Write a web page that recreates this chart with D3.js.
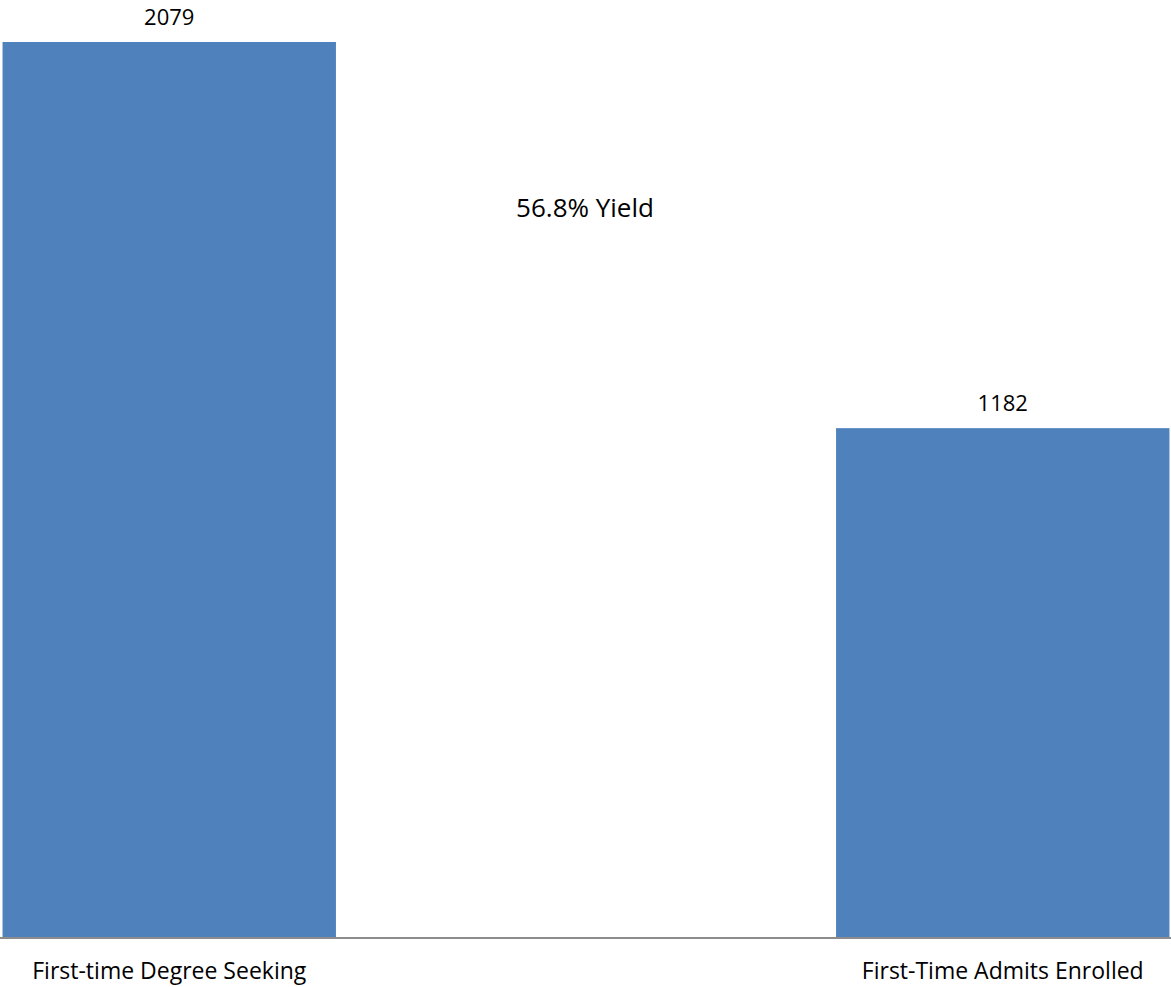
<!DOCTYPE html>
<html>
<head>
<meta charset="utf-8">
<script src="https://cdn.jsdelivr.net/npm/d3@7"></script>
<style>
  html, body { margin: 0; padding: 0; background: #fff; }
  svg { display: block; }
</style>
</head>
<body>
<svg id="chart" width="1171" height="987"></svg>
<script>
const categories = ["First-time Degree Seeking", "First-Time Admits Enrolled"];
const values = [2079, 1182];
const annotation = "56.8% Yield";

const W = 1171, H = 987;
const svg = d3.select("#chart");

const x = d3.scaleBand()
  .domain(categories)
  .range([-247.5, 1419.5])
  .paddingInner(0.6)
  .paddingOuter(0.3);

const y = d3.scaleLinear()
  .domain([0, d3.max(values)])
  .range([937, 42]);

const data = categories.map((c, i) => ({ c, v: values[i] }));

svg.selectAll("rect.bar")
  .data(data)
  .join("rect")
  .attr("class", "bar")
  .attr("x", d => x(d.c))
  .attr("width", x.bandwidth())
  .attr("y", d => y(d.v))
  .attr("height", d => y(0) - y(d.v))
  .attr("fill", "#4f81bd");

// baseline axis
const axis = d3.axisBottom(x).tickSize(0).tickPadding(0);
const g = svg.append("g").attr("transform", `translate(0,${y(0) + 1})`).call(axis);
g.select(".domain").attr("d", `M0,0H${W}`).attr("stroke", "#8c8c8c").attr("stroke-width", 2);
g.selectAll(".tick text")
  .attr("y", 41)
  .attr("dy", 0)
  .attr("font-family", "'Open Sans', sans-serif")
  .attr("font-size", 23)
  .attr("fill", "#000");

// data labels
svg.selectAll("text.val")
  .data(data)
  .join("text")
  .attr("class", "val")
  .attr("x", d => x(d.c) + x.bandwidth() / 2)
  .attr("y", d => y(d.v) - 17)
  .attr("text-anchor", "middle")
  .attr("font-family", "'Open Sans', sans-serif")
  .attr("font-size", 22)
  .attr("fill", "#000")
  .text(d => d.v);

svg.append("text")
  .attr("x", 585)
  .attr("y", 217)
  .attr("text-anchor", "middle")
  .attr("font-family", "'Open Sans', sans-serif")
  .attr("font-size", 26)
  .attr("fill", "#000")
  .text(annotation);
</script>
</body>
</html>
